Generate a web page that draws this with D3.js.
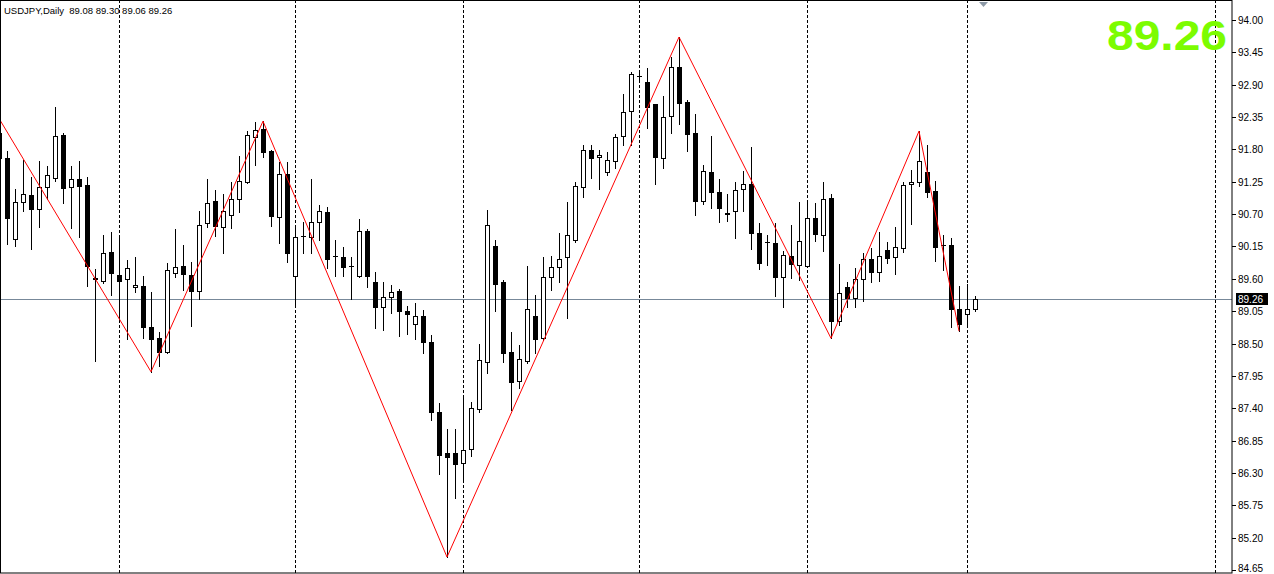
<!DOCTYPE html>
<html>
<head>
<meta charset="utf-8">
<title>USDJPY,Daily</title>
<script src="https://d3js.org/d3.v7.min.js"></script>
<style>
  body { margin: 0; background: #fff; }
  svg { display: block; }
  text { font-family: "Liberation Sans", Arial, sans-serif; white-space: pre; }
</style>
</head>
<body>
<script type="text/javascript">
// bar -1 is the partial bar cut by the left edge, last bar is index 121
var firstBar = -1;
var opens = [92.08, 91.65, 90.28, 90.91, 91.03, 90.79, 91.16, 91.31, 92.05, 91.16, 91.30,
  91.20, 89.61, 89.56, 90.06, 89.67, 89.60, 89.46, 89.48, 88.78, 88.59,
  88.36, 89.70, 89.82, 89.67, 89.39, 90.55, 90.92, 90.48, 90.69, 90.96,
  91.25, 92.01, 92.15, 91.77, 90.65, 91.38, 89.65, 90.33, 90.31, 90.57,
  90.74, 89.99, 89.97, 89.82, 89.65, 90.41, 89.55, 89.12, 89.29, 89.39,
  89.05, 88.83, 88.97, 88.53, 87.34, 86.64, 86.64, 86.47, 86.71, 87.39,
  88.19, 90.16, 89.55, 88.36, 87.86, 88.20, 88.97, 88.59, 89.63, 89.80,
  89.97, 90.26, 91.16, 91.79, 91.67, 91.42, 91.60, 92.03, 92.45, 93.05,
  92.95, 92.57, 91.65, 92.37, 93.20, 92.61, 92.08, 90.92, 91.42, 91.08,
  90.72, 90.75, 91.13, 91.21, 90.38, 90.23, 90.21, 89.63, 89.99, 89.84,
  89.82, 90.63, 90.35, 90.97, 88.88, 89.46, 89.27, 89.60, 89.94, 89.72,
  90.09, 89.97, 90.12, 91.21, 91.25, 91.42, 91.09, 90.18, 90.17, 89.09,
  89.00, 89.08];
var highs = [92.16, 91.77, 91.13, 91.62, 91.33, 91.60, 91.52, 92.52, 92.08, 91.52, 91.60,
  91.33, 89.77, 90.35, 90.40, 90.31, 89.92, 89.97, 89.65, 89.38, 88.70,
  89.87, 90.45, 90.18, 89.89, 90.75, 91.30, 91.11, 91.04, 91.25, 91.69,
  92.11, 92.27, 92.28, 91.79, 91.59, 91.59, 90.46, 90.57, 91.30, 90.86,
  90.82, 90.26, 90.14, 89.97, 90.62, 90.45, 89.72, 89.55, 89.50, 89.43,
  89.14, 89.19, 89.07, 88.65, 87.49, 87.05, 87.05, 87.57, 87.51, 88.49,
  90.77, 90.26, 89.58, 88.70, 88.48, 89.82, 89.33, 89.97, 89.99, 90.38,
  90.91, 91.25, 91.88, 91.88, 91.79, 91.76, 92.06, 92.74, 93.12, 93.10,
  93.18, 92.57, 92.71, 93.37, 93.71, 92.64, 92.40, 91.54, 92.03, 91.30,
  91.04, 91.25, 91.43, 91.84, 90.55, 90.35, 90.55, 90.07, 90.52, 90.91,
  90.94, 90.89, 91.25, 91.04, 89.85, 89.55, 89.78, 90.04, 90.12, 90.40,
  90.23, 90.48, 91.25, 91.45, 92.11, 91.88, 91.26, 90.35, 90.29, 89.48,
  89.51, 89.30];
var lows = [91.59, 90.19, 90.16, 90.75, 90.11, 90.48, 90.96, 91.26, 90.89, 90.46, 90.31,
  89.48, 88.20, 89.53, 89.33, 88.87, 88.58, 89.38, 88.59, 88.02, 88.12,
  88.34, 89.63, 89.41, 88.80, 89.26, 90.48, 90.33, 90.04, 90.46, 90.74,
  91.23, 91.54, 91.67, 90.50, 90.21, 89.89, 89.16, 90.04, 90.04, 90.26,
  89.78, 89.65, 89.65, 89.26, 89.63, 89.46, 88.76, 88.73, 89.02, 88.63,
  88.66, 88.58, 88.34, 87.20, 86.28, 84.87, 85.87, 86.18, 86.59, 87.34,
  88.00, 89.05, 88.19, 87.37, 87.74, 88.17, 88.34, 88.56, 89.41, 89.55,
  88.93, 90.23, 90.99, 91.31, 91.13, 91.37, 91.48, 91.88, 91.88, 92.98,
  92.16, 91.21, 91.48, 92.08, 92.23, 91.77, 90.69, 90.87, 90.80, 90.57,
  90.58, 90.29, 90.75, 90.11, 89.77, 89.84, 89.31, 89.12, 89.61, 89.58,
  89.80, 90.24, 90.07, 88.59, 88.82, 89.12, 89.12, 89.22, 89.55, 89.56,
  89.87, 89.68, 90.06, 90.53, 91.18, 90.99, 89.90, 89.75, 88.78, 88.71,
  88.78, 89.06];
var closes = [91.65, 90.63, 90.91, 91.04, 90.79, 91.16, 91.37, 92.03, 91.14, 91.30, 91.18,
  89.82, 89.60, 90.04, 89.70, 89.56, 89.78, 89.50, 88.78, 88.58, 88.36,
  89.75, 89.80, 89.68, 89.39, 90.52, 90.89, 90.50, 90.75, 90.96, 91.26,
  92.05, 92.13, 91.76, 90.67, 91.38, 90.04, 90.31, 90.32, 90.57, 90.75,
  89.94, 89.98, 89.80, 89.81, 90.41, 89.65, 89.12, 89.29, 89.38, 89.05,
  89.00, 88.97, 88.53, 87.34, 86.61, 86.57, 86.45, 86.69, 87.40, 88.22,
  90.52, 89.51, 88.34, 87.85, 88.24, 89.09, 88.58, 89.63, 89.80, 89.94,
  90.35, 91.18, 91.79, 91.65, 91.71, 91.62, 92.01, 92.44, 93.08, 93.04,
  92.52, 91.67, 92.35, 93.20, 92.59, 92.06, 90.92, 91.43, 91.08, 90.80,
  90.71, 91.11, 91.21, 90.38, 89.87, 90.22, 89.63, 90.00, 89.85, 90.24,
  90.63, 90.36, 90.96, 88.88, 89.36, 89.27, 89.60, 89.94, 89.72, 89.99,
  89.95, 90.14, 91.20, 91.25, 91.60, 91.08, 90.14, 90.17, 89.09, 88.83,
  89.09, 89.26];

// zigzag turning points (bar index, price); the first one is off the left edge
var zigzagBars = [-3, 18, 32, 55, 84, 103, 114, 119];
var zigzagPrices = [92.78, 88.02, 92.28, 84.87, 93.71, 88.59, 92.11, 88.71];

// monthly period separators (bar index)
var separatorBars = [14, 36, 57, 79, 100, 120, 151];

var priceTicks = ["94.00", "93.45", "92.90", "92.35", "91.80", "91.25", "90.70", "90.15", "89.60",
  "89.05", "88.50", "87.95", "87.40", "86.85", "86.30", "85.75", "85.20", "84.65"];

var symbol = "USDJPY,Daily";
var lastBid = 89.26;

var w = 1274, h = 574;
var plotW = 1232, plotH = 573;

var svg = d3.select("body").append("svg")
    .attr("width", w)
    .attr("height", h);

svg.append("rect")
    .attr("width", w)
    .attr("height", h)
    .attr("fill", "#fff");

// 8px per bar, bar 0 sits at x = 7
var x = d3.scaleLinear().domain([0, 121]).range([7, 975]);
var y = d3.scaleLinear().domain([84.65, 94.00]).range([570, 20]);

svg.append("clipPath").attr("id", "plot")
  .append("rect")
    .attr("x", 1).attr("y", 1)
    .attr("width", plotW - 1).attr("height", plotH - 1);

var plot = svg.append("g").attr("clip-path", "url(#plot)");

// period separators
plot.selectAll("line.sep")
    .data(separatorBars)
    .enter().append("line")
    .attr("class", "sep")
    .attr("x1", function(d) { return Math.round(x(d)) + 0.5; })
    .attr("x2", function(d) { return Math.round(x(d)) + 0.5; })
    .attr("y1", 0)
    .attr("y2", plotH)
    .attr("stroke", "#000")
    .attr("stroke-dasharray", "3,2");

// bid line
plot.append("line")
    .attr("x1", 0).attr("x2", plotW)
    .attr("y1", Math.round(y(lastBid)) + 0.5)
    .attr("y2", Math.round(y(lastBid)) + 0.5)
    .attr("stroke", "#778899");

// candles
var bars = opens.map(function(o, k) {
  return { i: k + firstBar, o: o, h: highs[k], l: lows[k], c: closes[k] };
});

var candle = plot.selectAll("g.candle")
    .data(bars)
    .enter().append("g")
    .attr("class", "candle");

candle.append("line")
    .attr("x1", function(d) { return Math.round(x(d.i)) + 0.5; })
    .attr("x2", function(d) { return Math.round(x(d.i)) + 0.5; })
    .attr("y1", function(d) { return Math.round(y(d.h)); })
    .attr("y2", function(d) { return Math.round(y(d.l)) + 1; })
    .attr("stroke", "#000");

candle.each(function(d) {
  var g = d3.select(this);
  var cx = Math.round(x(d.i));
  var top = Math.round(y(Math.max(d.o, d.c)));
  var bot = Math.round(y(Math.min(d.o, d.c)));
  if (d.c >= d.o && bot - top >= 2) {
    g.append("rect")
        .attr("x", cx - 1.5).attr("y", top + 0.5)
        .attr("width", 4).attr("height", bot - top)
        .attr("fill", "#fff")
        .attr("stroke", "#000");
  } else {
    g.append("rect")
        .attr("x", cx - 2).attr("y", top)
        .attr("width", 5).attr("height", Math.max(1, bot - top + 1))
        .attr("fill", "#000");
  }
});

// zigzag
var zz = zigzagBars.map(function(b, k) { return [x(b), y(zigzagPrices[k])]; });
plot.append("path")
    .attr("d", d3.line()(zz))
    .attr("fill", "none")
    .attr("stroke", "#ff0000")
    .attr("stroke-width", 1);

// frame
svg.append("rect")
    .attr("x", 0.5).attr("y", 0.5)
    .attr("width", plotW - 0.5).attr("height", plotH - 0.5)
    .attr("fill", "none")
    .attr("stroke", "#000");

// price scale
var axis = svg.append("g");
axis.selectAll("line")
    .data(priceTicks)
    .enter().append("line")
    .attr("x1", plotW).attr("x2", plotW + 4)
    .attr("y1", function(d) { return Math.round(y(+d)) + 0.5; })
    .attr("y2", function(d) { return Math.round(y(+d)) + 0.5; })
    .attr("stroke", "#000");
axis.selectAll("text")
    .data(priceTicks)
    .enter().append("text")
    .attr("x", plotW + 6)
    .attr("y", function(d) { return Math.min(Math.round(y(+d)) + 4, h - 2); })
    .attr("font-size", "10px")
    .attr("fill", "#000")
    .text(function(d) { return d; });

// current bid tag
var by = Math.round(y(lastBid));
svg.append("rect")
    .attr("x", plotW + 4).attr("y", by - 6)
    .attr("width", 32).attr("height", 12)
    .attr("fill", "#000");
svg.append("text")
    .attr("x", plotW + 6).attr("y", by + 4)
    .attr("font-size", "10px")
    .attr("fill", "#fff")
    .text(lastBid.toFixed(2));

// chart shift marker
svg.append("path")
    .attr("d", "M979,2 L988,2 L983.5,7 Z")
    .attr("fill", "#8d99a6");

// title line
var last = bars[bars.length - 1];
svg.append("text")
    .attr("x", 4).attr("y", 14)
    .attr("font-size", "9.5px")
    .attr("fill", "#000")
    .text(symbol + "  " + [last.o, last.h, last.l, last.c].map(function(v) { return v.toFixed(2); }).join(" "));

// big price label
svg.append("text")
    .attr("x", 1107).attr("y", 50)
    .attr("font-size", "42px")
    .attr("font-weight", "bold")
    .attr("fill", "#7cfc00")
    .attr("textLength", 120)
    .attr("lengthAdjust", "spacingAndGlyphs")
    .text(lastBid.toFixed(2));
</script>
</body>
</html>
